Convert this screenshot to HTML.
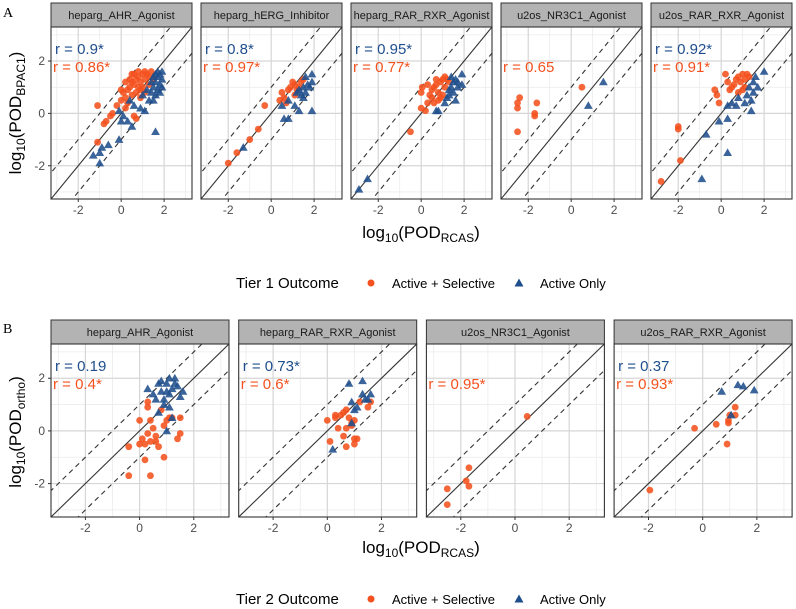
<!DOCTYPE html>
<html><head><meta charset="utf-8">
<style>
body{margin:0;background:#fff;}
svg{display:block;font-family:"Liberation Sans",Arial,sans-serif;}
</style></head>
<body>
<svg id="chart" width="796" height="609" viewBox="0 0 796 609" xmlns="http://www.w3.org/2000/svg">
<text x="3" y="17" font-family="Liberation Serif,serif" font-size="14" fill="#000">A</text>
<text x="3" y="333" font-family="Liberation Serif,serif" font-size="14" fill="#000">B</text>
<g id="root"></g>
</svg>
<script>
// ---- data: [x (log10 POD RCAS), y (log10 POD other)] ----
const panelNamesA = ["heparg_AHR_Agonist","heparg_hERG_Inhibitor","heparg_RAR_RXR_Agonist","u2os_NR3C1_Agonist","u2os_RAR_RXR_Agonist"];
const rBlueA = ["r = 0.9*","r = 0.8*","r = 0.95*","","r = 0.92*"];
const rOrangeA = ["r = 0.86*","r = 0.97*","r = 0.77*","r = 0.65","r = 0.91*"];
const orangeA1 = [[-1.1,0.3],[-1.1,-1.1],[-0.8,-0.4],[-0.7,-0.3],[-0.5,-0.1],[-0.4,0],[0,0.9],[0.1,0.8],[0.2,0.6],[0.3,0.9],[0.4,1.0],[0.5,1.2],[0.6,1.1],[0.7,1.3],[0.8,1.4],[0.9,1.2],[1.0,1.5],[1.1,1.3],[1.2,1.5],[1.3,1.4],[1.4,1.6],[0.3,0.4],[0.5,0.7],[0.7,0.8],[0.9,0.9],[1.0,1.0],[0.2,0.2],[0.6,-0.1],[0.7,-0.2],[1.1,0.8],[0.4,1.3],[0.6,1.5],[0.8,1.0],[0.0,0.5],[-0.2,0.3],[1.3,1.1],[1.5,1.3],[0.9,0.6],[0.5,1.5],[0.2,1.2],[1.1,1.6],[0.8,1.6]];
const blueA1 = [[-1.3,-1.6],[-1.0,-1.9],[-0.9,-1.3],[-1.0,-1.5],[-0.6,-1.2],[-0.1,-1.0],[0,-0.3],[0.1,-0.1],[0.3,-0.3],[0.5,-0.5],[0.6,0.3],[0.4,0.5],[0.9,0.2],[1.1,0.1],[1.3,0.5],[1.5,0.5],[1.6,-0.7],[-0.1,0.1],[1.4,0.8],[1.5,1.0],[1.6,1.2],[1.7,1.4],[1.8,1.5],[1.9,1.3],[1.7,0.9],[1.8,1.1],[1.9,1.0],[1.6,1.5],[1.5,1.4],[1.9,1.6],[1.7,1.6],[1.4,1.2],[1.2,0.9],[1.0,0.7],[1.8,0.8],[1.6,0.7]];
const orangeA2 = [[-2.0,-1.9],[-1.6,-1.5],[-1.0,-1.0],[-0.6,-0.6],[-0.3,0.3],[0.4,0.5],[0.5,0.8],[0.6,0.6],[0.8,0.9],[0.9,1.0],[1.0,1.2],[1.1,1.1],[1.2,0.9],[1.3,1.0],[1.4,1.2],[1.5,1.3],[1.1,0.7],[0.7,0.4]];
const blueA2 = [[-1.3,-1.3],[0.5,0.3],[0.6,-0.2],[0.8,-0.2],[0.8,0.5],[1.1,0.3],[1.3,0.1],[1.2,0.8],[1.3,0.9],[1.5,1.0],[1.6,0.8],[1.7,1.1],[1.8,1.0],[1.9,1.5],[1.9,1.2],[1.9,0.1],[1.6,1.4],[1.4,0.7],[1.5,0.6]];
const orangeA3 = [[-0.5,-0.7],[0,0.8],[0.05,1.0],[0.2,0.1],[0.3,0.4],[0.4,0.7],[0.5,0.9],[0.6,1.0],[0.7,1.1],[0.8,0.8],[0.9,1.2],[1.0,1.3],[1.1,1.4],[1.2,1.3],[0.8,0.5],[0.9,0.6],[1.0,0.7],[0.5,0.6],[0.7,1.3],[0.3,1.1],[0.0,0.2],[1.3,1.2],[1.1,1.0],[0.6,0.4]];
const blueA3 = [[-2.9,-2.9],[-2.5,-2.5],[0.7,0.1],[0.8,0.1],[1.1,0.4],[1.2,0.6],[1.3,0.9],[1.4,1.0],[1.5,1.2],[1.6,1.3],[1.5,0.8],[1.7,1.0],[1.9,1.5],[1.9,1.1],[1.6,0.5],[1.4,1.4],[1.3,0.7],[1.7,1.2]];
const orangeA4 = [[-2.5,0.4],[-2.5,0.2],[-2.4,0.6],[-2.5,-0.7],[-1.6,0.4],[-1.7,0.0],[-1.7,-0.1],[0.5,1.0]];
const blueA4 = [[0.8,0.3],[1.5,1.2]];
const orangeA5 = [[-2.8,-2.6],[-1.9,-1.8],[-2.0,-0.5],[-2.0,-0.6],[-0.3,0.9],[-0.2,0.7],[-0.1,0.4],[0.2,1.5],[0.3,1.2],[0.4,0.9],[0.5,1.0],[0.7,1.3],[0.8,1.4],[0.9,1.2],[1.0,1.5],[1.1,1.3],[1.2,1.5],[1.3,1.4],[0.8,0.8],[1.0,0.9],[0.6,1.1],[1.1,1.0]];
const blueA5 = [[-0.9,-2.5],[-0.7,-0.8],[0.3,-1.5],[-0.1,-0.3],[0.3,-0.2],[0.3,0.3],[0.5,0.4],[0.7,0.3],[0.8,0.6],[1.1,0.4],[1.4,0.1],[1.3,1.0],[1.5,1.2],[1.6,1.4],[1.7,1.0],[2.0,1.6],[1.5,0.8],[1.2,0.7],[1.4,0.5]];

const panelNamesB = ["heparg_AHR_Agonist","heparg_RAR_RXR_Agonist","u2os_NR3C1_Agonist","u2os_RAR_RXR_Agonist"];
const rBlueB = ["r = 0.19","r = 0.73*","","r = 0.37"];
const rOrangeB = ["r = 0.4*","r = 0.6*","r = 0.95*","r = 0.93*"];
const orangeB1 = [[-0.4,-1.7],[0.4,-1.7],[-0.4,-0.6],[0,-0.5],[0,0.4],[0.1,-0.3],[0.2,-1.1],[0.3,-0.1],[0.3,0.9],[0.3,1.1],[0.4,-0.4],[0.4,0.4],[0.5,0.1],[0.6,-0.2],[0.6,-0.4],[0.7,-0.6],[0.8,0.8],[0.9,0.2],[0.9,-1.0],[1.0,0.4],[1.1,0.5],[1.2,0.5],[1.4,-0.3],[1.5,-0.1],[1.5,0.5],[0.2,-0.5]];
const blueB1 = [[0.3,1.6],[0.5,1.4],[0.6,1.2],[0.7,1.8],[0.7,0.7],[0.8,1.9],[0.8,1.5],[0.9,1.0],[1.0,1.8],[1.0,1.5],[1.1,2.0],[1.1,1.4],[1.2,1.6],[1.3,2.0],[1.3,1.8],[1.4,1.7],[1.5,1.3],[1.6,1.5],[1.1,0.9],[1.2,0.5],[1.0,0.0],[0.9,1.2]];
const orangeB2 = [[0.0,0.4],[0.1,-0.4],[0.3,0.5],[0.4,0.1],[0.5,0.6],[0.6,0.7],[0.7,0.8],[0.6,-0.2],[0.7,-0.6],[0.7,0.1],[0.8,0.5],[0.9,0.3],[1.0,0.4],[1.0,-0.5],[1.0,-0.3],[1.1,-0.3],[1.2,1.1],[1.5,0.9],[1.6,1.1],[0.3,0.6],[0.9,0.2]];
const blueB2 = [[0.2,-0.7],[0.9,0.3],[0.8,1.8],[1.3,1.9],[0.9,1.1],[1.0,0.8],[1.1,0.9],[1.3,1.4],[1.4,1.2],[1.6,1.4],[1.5,1.2]];
const orangeB3 = [[-2.5,-2.2],[-2.5,-2.8],[-1.7,-1.4],[-1.8,-1.9],[-1.7,-2.1],[0.45,0.55]];
const blueB3 = [];
const orangeB4 = [[-1.95,-2.25],[-0.3,0.1],[0.5,0.25],[0.9,-0.5],[0.95,0.3],[0.95,0.4],[1.0,0.6],[1.2,0.6],[1.2,0.9]];
const blueB4 = [[0.7,1.5],[1.3,1.75],[1.5,1.7],[1.9,1.55],[1.05,0.6]];

const xTicks = [-2,0,2];
const yTicks = [-2,0,2];
const minorTicks = [-3,-1,1,3];
const DMIN = -3.27, DMAX = 3.3;
const ORANGE = "#f4511e", BLUE = "#1f4e8c";
const NS = "http://www.w3.org/2000/svg";
const root = document.getElementById('root');

function mk(tag, attrs, parent, text){
  const e = document.createElementNS(NS, tag);
  for (const k in attrs) e.setAttribute(k, attrs[k]);
  if (text !== undefined) e.textContent = text;
  (parent||root).appendChild(e);
  return e;
}

function panel(x0, top, w, stripH, h, title, orange, blue, rb, ro, showY, idx, grp){
  const g = mk('g', {});
  
  
  const py0 = top + stripH, py1 = py0 + h;
  const sx = v => x0 + (v - DMIN) / (DMAX - DMIN) * w;
  const sy = v => py1 - (v - DMIN) / (DMAX - DMIN) * h;
  const s = mk('rect', {x:x0, y:top, width:w, height:stripH, fill:'#b3b3b3', stroke:'#333', 'stroke-width':1}, g);
  
  
  const st = mk('text', {x:x0 + w/2, y:top + stripH/2 + 4, 'text-anchor':'middle', 'font-size':11, fill:'#1a1a1a'}, g, title);
  
  
  mk('rect', {x:x0, y:py0, width:w, height:h, fill:'#fff'}, g);
  const cg = mk('g', {}, g);
  minorTicks.forEach(v => {
    mk('line', {x1:sx(v), x2:sx(v), y1:py0, y2:py1, stroke:'#ebebeb', 'stroke-width':0.8}, cg);
    mk('line', {x1:x0, x2:x0+w, y1:sy(v), y2:sy(v), stroke:'#ebebeb', 'stroke-width':0.8}, cg);
  });
  xTicks.forEach(v => mk('line', {x1:sx(v), x2:sx(v), y1:py0, y2:py1, stroke:'#d6d6d6', 'stroke-width':1.2}, cg));
  yTicks.forEach(v => mk('line', {x1:x0, x2:x0+w, y1:sy(v), y2:sy(v), stroke:'#d6d6d6', 'stroke-width':1.2}, cg));
  const cid = 'c' + grp + idx;
  const cp = mk('clipPath', {id:cid}, g);
  mk('rect', {x:x0, y:py0, width:w, height:h}, cp);
  const lg = mk('g', {'clip-path':'url(#' + cid + ')'}, g);
  [-1, 0, 1].forEach(off => {
    const l = mk('line', {x1:sx(DMIN - 1), y1:sy(DMIN - 1 + off), x2:sx(DMAX + 1), y2:sy(DMAX + 1 + off), stroke:'#333', 'stroke-width':1.1, 'stroke-dasharray': off ? '5,4' : 'none'}, lg);
    
    
  });
  orange.forEach(p => {
    const c = mk('circle', {cx:sx(p[0]), cy:sy(p[1]), r:3.4, fill:ORANGE, 'fill-opacity':0.88}, lg);
    
    
  });
  blue.forEach(p => {
    const cx = sx(p[0]), cy = sy(p[1]);
    const t = mk('polygon', {points:(cx)+','+(cy-4.3)+' '+(cx-4.4)+','+(cy+3.3)+' '+(cx+4.4)+','+(cy+3.3), fill:BLUE, 'fill-opacity':0.88}, lg);
    
    
  });
  mk('rect', {x:x0, y:py0, width:w, height:h, fill:'none', stroke:'#333', 'stroke-width':1.1}, g);
  if (rb) {
    const t = mk('text', {x:x0 + 4, y:py0 + 27, 'font-size':15, fill:BLUE}, g, rb);
    
    
  }
  if (ro) {
    const t = mk('text', {x:x0 + 2, y:py0 + 45, 'font-size':15, fill:ORANGE}, g, ro);
    
    
  }
  xTicks.forEach(v => {
    mk('line', {x1:sx(v), x2:sx(v), y1:py1, y2:py1 + 3, stroke:'#333'}, g);
    const t = mk('text', {x:sx(v), y:py1 + 15, 'text-anchor':'middle', 'font-size':12, fill:'#4d4d4d'}, g, String(v));
    
    
  });
  if (showY) yTicks.forEach(v => {
    mk('line', {x1:x0 - 3, x2:x0, y1:sy(v), y2:sy(v), stroke:'#333'}, g);
    const t = mk('text', {x:x0 - 6, y:sy(v) + 4, 'text-anchor':'end', 'font-size':12, fill:'#4d4d4d'}, g, String(v));
    
    
  });
}

const oA = [orangeA1, orangeA2, orangeA3, orangeA4, orangeA5];
const bA = [blueA1, blueA2, blueA3, blueA4, blueA5];
panelNamesA.forEach((n, i) => panel(51 + i * 150, 3, 141, 24, 172, n, oA[i], bA[i], rBlueA[i], rOrangeA[i], i === 0, i, 'a'));
const oB = [orangeB1, orangeB2, orangeB3, orangeB4];
const bB = [blueB1, blueB2, blueB3, blueB4];
panelNamesB.forEach((n, i) => panel(51 + i * 187.7, 320, 178, 24, 173, n, oB[i], bB[i], rBlueB[i], rOrangeB[i], i === 0, i, 'b'));

function yTitle(cy, sub, name){
  const t = mk('text', {transform:'translate(21,' + cy + ') rotate(-90)', 'text-anchor':'middle', 'font-size':17, fill:'#000'});
  
  
  t.innerHTML = 'log<tspan font-size="12" dy="4">10</tspan><tspan dy="-4">(POD</tspan><tspan font-size="12" dy="4">' + sub + '</tspan><tspan dy="-4">)</tspan>';
}
function xTitle(y, name){
  const t = mk('text', {x:421, y:y, 'text-anchor':'middle', 'font-size':17, fill:'#000'});
  
  
  t.innerHTML = 'log<tspan font-size="12" dy="4">10</tspan><tspan dy="-4">(POD</tspan><tspan font-size="12" dy="4">RCAS</tspan><tspan dy="-4">)</tspan>';
}
yTitle(113, 'BPAC1', 'y-axis-title-a');
yTitle(432, 'ortho', 'y-axis-title-b');
xTitle(238, 'x-axis-title-a');
xTitle(553, 'x-axis-title-b');

function legend(y, title, name){
  const g = mk('g', {});
  
  
  const t = mk('text', {x:236, y:y + 5, 'font-size':15, fill:'#000'}, g, title);
  
  
  const c = mk('circle', {cx:371, cy:y, r:3.5, fill:ORANGE}, g);
  
  
  const l1 = mk('text', {x:392, y:y + 5, 'font-size':13, fill:'#000'}, g, 'Active + Selective');
  
  
  const tr = mk('polygon', {points:'519,' + (y - 4.5) + ' 514.5,' + (y + 3.5) + ' 523.5,' + (y + 3.5), fill:BLUE}, g);
  
  
  const l2 = mk('text', {x:540, y:y + 5, 'font-size':13, fill:'#000'}, g, 'Active Only');
  
  
}
legend(283, 'Tier 1 Outcome', 'legend-tier1');
legend(599, 'Tier 2 Outcome', 'legend-tier2');
</script>
</body></html>
